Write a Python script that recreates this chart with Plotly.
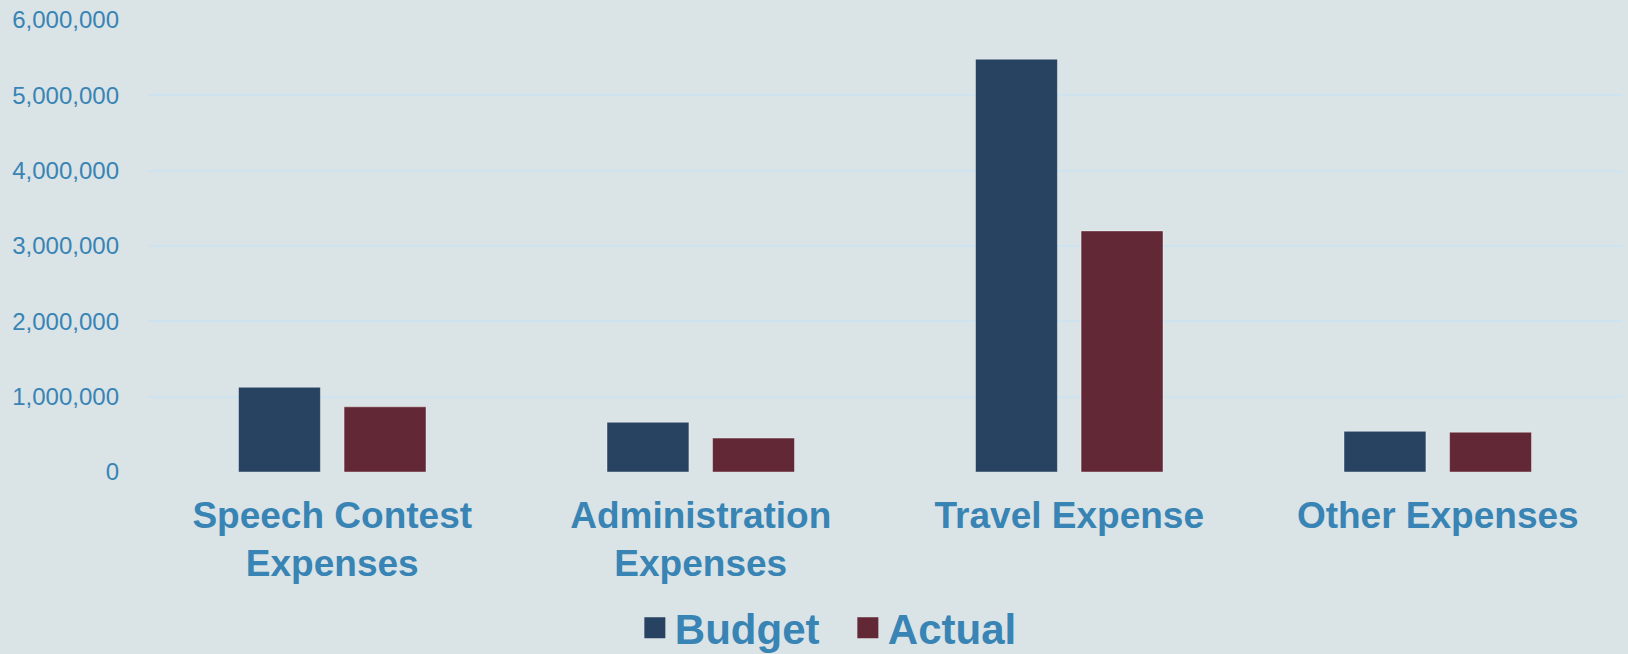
import plotly.graph_objects as go

categories = ["Speech Contest<br>Expenses", "Administration<br>Expenses", "Travel Expense", "Other Expenses"]
budget = [1125000, 660000, 5480000, 540000]
actual = [865000, 450000, 3200000, 528000]
series_names = ["Budget", "Actual"]
tick_vals = [0, 1000000, 2000000, 3000000, 4000000, 5000000, 6000000]

BUDGET_COLOR = "#284362"
ACTUAL_COLOR = "#632835"
TEXT_COLOR = "#3884b4"
BG = "#dae3e6"
FONT = "Liberation Sans, Arial, sans-serif"

fig = go.Figure()
for name, vals, col in [(series_names[0], budget, BUDGET_COLOR), (series_names[1], actual, ACTUAL_COLOR)]:
    fig.add_trace(go.Bar(
        x=categories, y=vals, name=name, showlegend=False,
        marker=dict(color=col, line=dict(color="rgba(255,255,255,0.4)", width=1)),
    ))
    # legend proxy with a larger square symbol
    fig.add_trace(go.Scatter(
        x=[None], y=[None], mode="markers", name=name,
        marker=dict(symbol="square", size=16, color=col, line=dict(color=col, width=6)),
    ))

fig.update_layout(
    width=1628, height=654,
    paper_bgcolor=BG, plot_bgcolor=BG,
    margin=dict(l=148, r=6, t=20, b=182, autoexpand=False),
    barmode="group", bargap=0.427, bargroupgap=0.224,
    font=dict(family=FONT, color=TEXT_COLOR),
    xaxis=dict(
        tickfont=dict(size=37, family=FONT, color=TEXT_COLOR, weight="bold"),
        showgrid=False, zeroline=False, showline=False, ticks="",
        automargin=False, ticklabelstandoff=18,
    ),
    yaxis=dict(
        range=[0, 6000000], tickvals=tick_vals, tickformat=",d",
        tickfont=dict(size=24, family=FONT, color=TEXT_COLOR),
        showgrid=True, gridcolor="#cde3ef", gridwidth=2,
        zeroline=False, showline=False, ticks="", ticklabelstandoff=28,
        automargin=False,
    ),
    legend=dict(
        orientation="h", x=0.4748, xanchor="center",
        yref="container", y=0.04, yanchor="middle",
        font=dict(size=42, family=FONT, color=TEXT_COLOR, weight="bold"),
        bgcolor="rgba(0,0,0,0)", itemwidth=30, entrywidth=168,
    ),
)

fig.write_html(
    "out.html",
    config={"displayModeBar": False},
    post_script="document.body.style.margin='0';document.body.style.overflow='hidden';",
)
